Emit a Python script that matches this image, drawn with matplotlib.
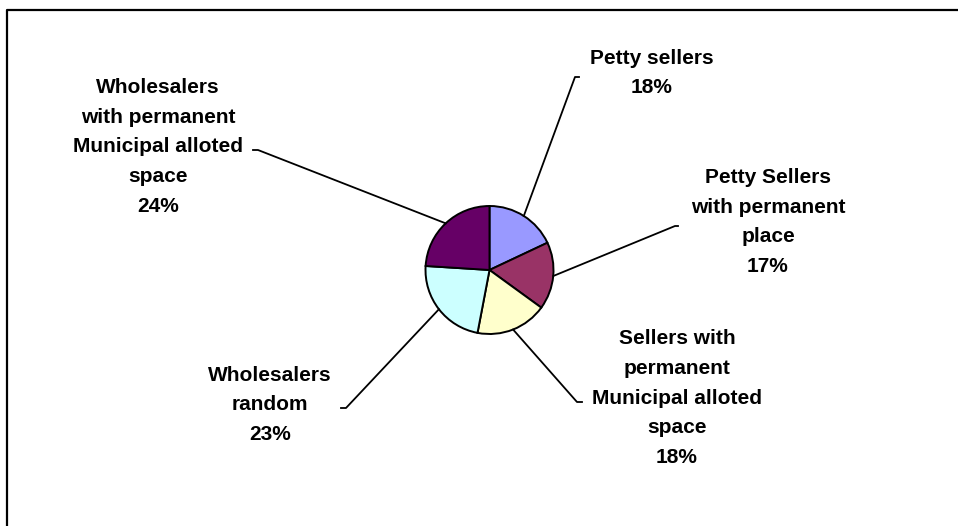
import numpy as np
import matplotlib
matplotlib.use("Agg")
import matplotlib.pyplot as plt

# ---- data ----
labels = ["Petty sellers",
          "Petty Sellers\nwith permanent\nplace",
          "Sellers with\npermanent\nMunicipal alloted\nspace",
          "Wholesalers\nrandom",
          "Wholesalers\nwith permanent\nMunicipal alloted\nspace"]
shares = [18, 17, 18, 23, 24]
colors = ["#9999FF", "#993366", "#FFFFCC", "#CCFFFF", "#660066"]

# ---- layout (pixel coords, y down) ----
W, H = 958, 526
pie_c = (489.5, 270)
pie_r = 64
label_xy = [(652, 73), (768, 222), (677, 398), (270, 405), (158, 147)]
elbow_xy = [(575, 77), (675, 226), (577, 402), (346, 408), (258, 150)]
tick_dx = [4, 3, 5, -5, -5]

fig = plt.figure(figsize=(W / 100, H / 100), dpi=100, facecolor="w")
ax = fig.add_axes([0, 0, 1, 1])

# outer chart frame (cut off at right/bottom like the original)
ax.plot([7, 7, W + 5], [-5, H - 10, H - 10], color="k", lw=1.6, solid_capstyle="butt")

wedges, _ = ax.pie(shares, colors=colors, startangle=90, counterclock=False,
                   center=(pie_c[0], H - pie_c[1]), radius=pie_r,
                   wedgeprops=dict(edgecolor="k", linewidth=1.4), frame=True)
ax.set_xlim(0, W)
ax.set_ylim(0, H)
ax.set_aspect("equal")
ax.axis("off")

for w, lab, s, (lx, ly), (ex, ey), dx in zip(wedges, labels, shares, label_xy, elbow_xy, tick_dx):
    ang = np.deg2rad((w.theta1 + w.theta2) / 2)
    px = pie_c[0] + pie_r * np.cos(ang)
    py = (H - pie_c[1]) + pie_r * np.sin(ang)
    ax.plot([px, ex, ex + dx], [py, H - ey, H - ey], color="k", lw=1.3)
    ax.text(lx, H - ly, "%s\n%d%%" % (lab, s), ha="center", va="center",
            multialignment="center", fontsize=15, fontweight="bold",
            family="Liberation Sans", linespacing=1.72)

fig.savefig("out.png", dpi=100, facecolor="w")
